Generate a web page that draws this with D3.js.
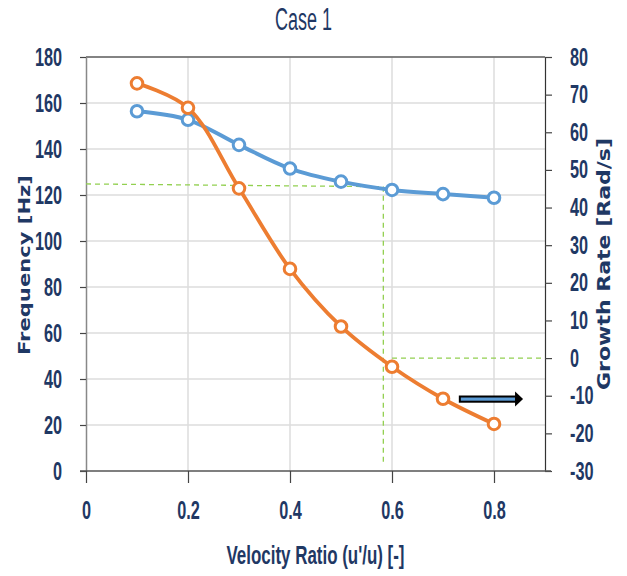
<!DOCTYPE html>
<html><head><meta charset="utf-8">
<script src="https://cdn.jsdelivr.net/npm/d3@7"></script>
<style>body{margin:0;background:#fff}svg{display:block}</style>
</head><body>
<script>
const velocityRatio = [0.1, 0.2, 0.3, 0.4, 0.5, 0.6, 0.7, 0.8];
const frequencyHz = [156.4, 152.7, 141.8, 131.5, 125.8, 122.2, 120.4, 118.8];
const growthRate = [73.0, 66.5, 45.1, 23.7, 8.4, -2.3, -10.8, -17.5];
const xTicks = [0, 0.2, 0.4, 0.6, 0.8];
const leftTicks = [0, 20, 40, 60, 80, 100, 120, 140, 160, 180];
const rightTicks = [-30, -20, -10, 0, 10, 20, 30, 40, 50, 60, 70, 80];
// dashed guide lines: [x, frequency] and [x, growth]
const guideFreqH = [[0, 124.8], [0.583, 123.6]];
const guideFreqV = [[0.583, 123.6], [0.583, 2.6]];
const guideGrowthH = [[0.6, 0], [0.9, 0]];
const arrowX = [0.733, 0.857];
const arrowGrowth = -10.9;

const W = 627, H = 576;
const L = 86, R = 545, T = 57, B = 471;
const navy = "#1f3864";
const svg = d3.select("body").append("svg").attr("width", W).attr("height", H);
const x = d3.scaleLinear().domain([0, 0.9]).range([L, R]);
const yL = d3.scaleLinear().domain([0, 180]).range([B, T]);
const yR = d3.scaleLinear().domain([-30, 80]).range([B, T]);

const font = "'Liberation Sans', Arimo, Arial, sans-serif";
function condense(sel, factor) {
  sel.each(function () {
    const w = this.getComputedTextLength();
    d3.select(this).attr("textLength", w * factor).attr("lengthAdjust", "spacingAndGlyphs");
  });
}

// gridlines
svg.append("g").selectAll("line").data(leftTicks.filter(d => d > 0)).join("line")
  .attr("x1", L).attr("x2", R).attr("y1", d => yL(d)).attr("y2", d => yL(d))
  .attr("stroke", "#dcdcdc").attr("stroke-width", 1.5);
svg.append("g").selectAll("line").data(xTicks.filter(d => d > 0)).join("line")
  .attr("x1", d => x(d)).attr("x2", d => x(d)).attr("y1", T).attr("y2", B)
  .attr("stroke", "#dcdcdc").attr("stroke-width", 1.5);
// top border
svg.append("line").attr("x1", L).attr("x2", R).attr("y1", T).attr("y2", T).attr("stroke", "#222").attr("stroke-width", 1.2);

function styleTicks(g) {
  g.selectAll(".tick text").attr("fill", navy).attr("font-family", font)
    .attr("font-weight", "bold").attr("font-size", 25);
  condense(g.selectAll(".tick text"), 0.65);
}

// left axis
const gl = svg.append("g").attr("transform", `translate(${L},0)`)
  .call(d3.axisLeft(yL).tickValues(leftTicks).tickFormat(d => String(d)).tickSize(6).tickPadding(18).tickSizeOuter(0));
gl.select(".domain").attr("stroke", "#888").attr("stroke-width", 1.5);
gl.selectAll(".tick line").attr("stroke", "#444").attr("stroke-width", 1.2);
styleTicks(gl);

// right axis
const gr = svg.append("g").attr("transform", `translate(${R},0)`)
  .call(d3.axisRight(yR).tickValues(rightTicks).tickFormat(d => String(d)).tickSize(7).tickPadding(18).tickSizeOuter(0));
gr.select(".domain").attr("stroke", "#333").attr("stroke-width", 1.2);
gr.selectAll(".tick line").attr("stroke", "#444").attr("stroke-width", 1.2);
styleTicks(gr);

// bottom axis
const gb = svg.append("g").attr("transform", `translate(0,${B})`)
  .call(d3.axisBottom(x).tickValues(xTicks).tickFormat(d => d === 0 ? "0" : d3.format(".1f")(d)).tickSize(12).tickSizeOuter(0));
gb.select(".domain").attr("stroke", "#555").attr("stroke-width", 1.5).attr("d", `M${L - 6},0H${R + 6}`);
gb.selectAll(".tick line").attr("stroke", "#444").attr("stroke-width", 1.2);
gb.selectAll(".tick text").attr("y", 48).attr("dy", 0);
styleTicks(gb);

// guide lines
const gline = d3.line();
const dash = (pts, ys) => svg.append("path")
  .attr("d", gline(pts.map(p => [x(p[0]), ys(p[1])])))
  .attr("fill", "none").attr("stroke", "#92d050").attr("stroke-width", 1.3).attr("stroke-dasharray", "5,4");
dash(guideFreqH, yL);
dash(guideFreqV, yL);
dash(guideGrowthH, yR);

// series
const blueData = velocityRatio.map((v, i) => [v, frequencyHz[i]]);
const orangeData = velocityRatio.map((v, i) => [v, growthRate[i]]);
function series(data, ys, color, w) {
  const ln = d3.line().x(d => x(d[0])).y(d => ys(d[1])).curve(d3.curveCatmullRom.alpha(0.5));
  svg.append("path").attr("d", ln(data)).attr("fill", "none").attr("stroke", color).attr("stroke-width", w);
  svg.append("g").selectAll("circle").data(data).join("circle")
    .attr("cx", d => x(d[0])).attr("cy", d => ys(d[1])).attr("r", 5.8)
    .attr("fill", "#fff").attr("stroke", color).attr("stroke-width", 3);
}
series(blueData, yL, "#5b9bd5", 4);
series(orangeData, yR, "#ed7d31", 3.8);

// arrow
const ay = yR(arrowGrowth);
const ax0 = x(arrowX[0]), ax1 = x(arrowX[1]);
svg.append("rect").attr("x", ax0).attr("y", ay - 2.6).attr("width", ax1 - ax0 - 7).attr("height", 5.2)
  .attr("fill", "#5b9bd5").attr("stroke", "#000").attr("stroke-width", 2);
svg.append("path").attr("d", `M${ax1 - 8},${ay - 7.5}L${ax1},${ay}L${ax1 - 8},${ay + 7.5}Z`).attr("fill", "#000");

// titles
svg.append("text").attr("x", 303.5).attr("y", 30).attr("text-anchor", "middle")
  .attr("font-family", font).attr("font-size", 31).attr("fill", navy)
  .attr("textLength", 57).attr("lengthAdjust", "spacingAndGlyphs").text("Case 1");
svg.append("text").attr("x", 315.5).attr("y", 564).attr("text-anchor", "middle")
  .attr("font-family", font).attr("font-weight", "bold").attr("font-size", 26).attr("fill", navy)
  .attr("textLength", 178).attr("lengthAdjust", "spacingAndGlyphs")
  .text("Velocity Ratio (u'/u) [-]");
svg.append("text").attr("transform", "translate(30,265) rotate(-90)").attr("text-anchor", "middle")
  .attr("font-family", "'DejaVu Sans', sans-serif").attr("font-weight", "bold").attr("font-size", 16).attr("fill", navy)
  .attr("textLength", 180).attr("lengthAdjust", "spacingAndGlyphs")
  .text("Frequency [Hz]");
svg.append("text").attr("transform", "translate(610,264) rotate(-90)").attr("text-anchor", "middle")
  .attr("font-family", "'DejaVu Sans', sans-serif").attr("font-weight", "bold").attr("font-size", 17).attr("fill", navy)
  .attr("textLength", 252).attr("lengthAdjust", "spacingAndGlyphs")
  .text("Growth Rate [Rad/s]");
</script>
</body></html>
